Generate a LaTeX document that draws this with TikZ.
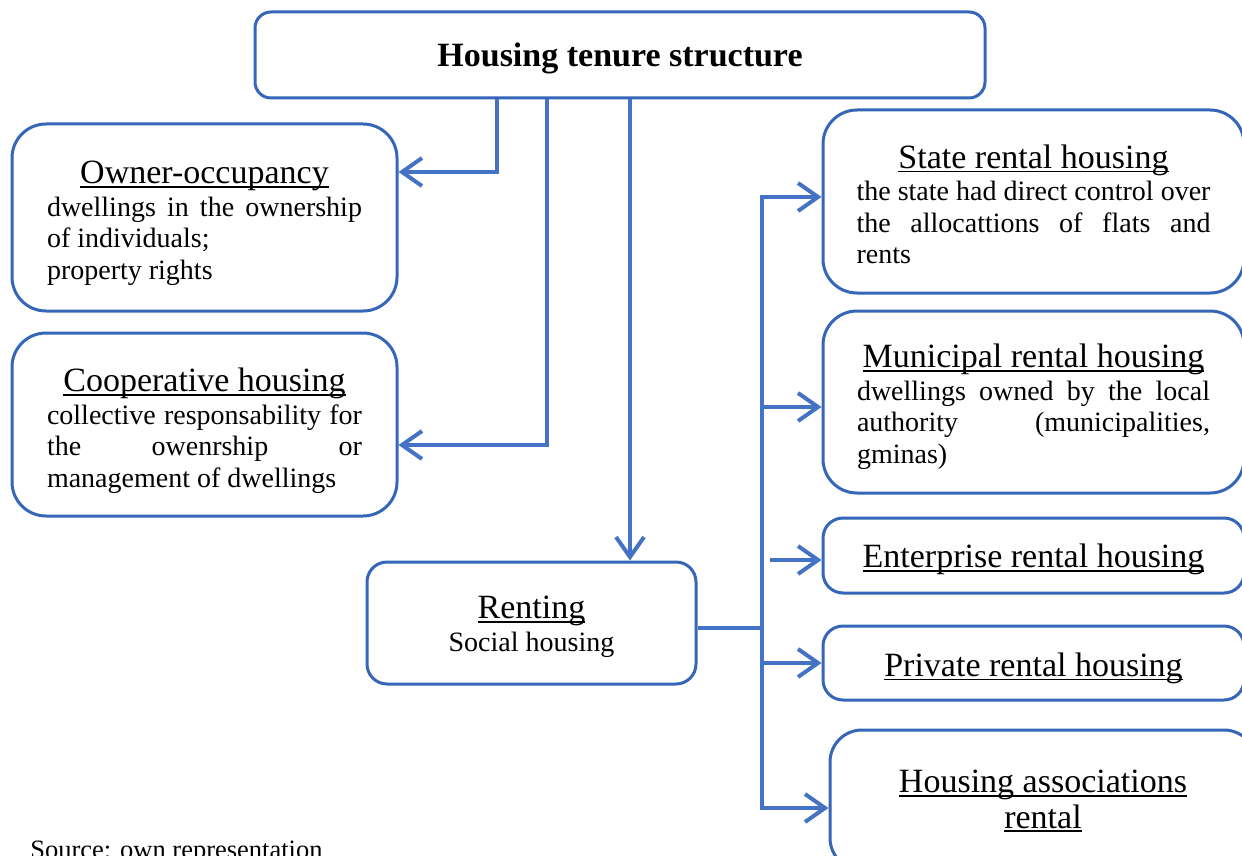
\documentclass[tikz,border=0pt]{standalone}
\usepackage{fontspec}
\setmainfont{Liberation Serif}
\usetikzlibrary{arrows.meta,calc}
\definecolor{boxblue}{HTML}{3566B8}
\definecolor{linkblue}{HTML}{4472C4}
\newsavebox{\ttlbox}
\newcommand{\ttl}[1]{{\fontsize{17}{17}\selectfont\sbox{\ttlbox}{#1}\rlap{\rule[-2pt]{\wd\ttlbox}{0.8pt}}\usebox{\ttlbox}}}
\newcommand{\jline}[2]{\makebox[#1][s]{#2}}
\newcommand{\lline}[2]{\makebox[#1][l]{#2}}
\tikzset{
  box/.style={draw=boxblue, line width=1.5pt, fill=white, inner sep=0pt},
  txt/.style={inner sep=0pt, align=center, font=\fontsize{14}{15.75}\selectfont},
  link/.style={draw=linkblue, line width=2pt},
  conn/.style={link, -{Straight Barb[length=10pt,width=14pt]}},
}
\begin{document}
\begin{tikzpicture}[x=0.5pt,y=-0.5pt]
\useasboundingbox (0,0) rectangle (1242,856);
\clip (0,0) rectangle (1242,856);
% boxes
\node[box, minimum width=365pt, minimum height=43pt, rounded corners=8pt] (top) at (620,55) {};
\node[box, minimum width=192.5pt, minimum height=93.5pt, rounded corners=17pt] (owner) at (204.5,217.5) {};
\node[box, minimum width=192.5pt, minimum height=91.5pt, rounded corners=17pt] (coop) at (204.5,424.5) {};
\node[box, minimum width=164.5pt, minimum height=61pt, rounded corners=10pt] (renting) at (531.5,623) {};
\node[box, minimum width=210.5pt, minimum height=91.5pt, rounded corners=17pt] (state) at (1033.5,201.5) {};
\node[box, minimum width=210.5pt, minimum height=91pt, rounded corners=17pt] (mun) at (1033.5,402) {};
\node[box, minimum width=210.5pt, minimum height=37.5pt, rounded corners=10pt] (ent) at (1033.5,555.5) {};
\node[box, minimum width=210.5pt, minimum height=37pt, rounded corners=10pt] (priv) at (1033.5,663) {};
\node[box, minimum width=213pt, minimum height=70pt, rounded corners=16pt] (ha) at (1043,800) {};
% texts
\node[txt, font=\fontsize{17}{17}\selectfont\bfseries] (topt) at ([yshift=-1.5pt]top.center)
  {Housing tenure structure};
\node[txt] (ownert) at ([yshift=-3pt]owner.center)
  {\ttl{Owner-occupancy}\\[0.5pt]
   \jline{157.5pt}{dwellings in the ownership}\\
   \lline{157.5pt}{of individuals;}\\
   \lline{157.5pt}{property rights}};
\node[txt] (coopt) at ([yshift=-3pt]coop.center)
  {\ttl{Cooperative housing}\\[0.5pt]
   \jline{157.5pt}{collective responsability for}\\
   \jline{157.5pt}{the owenrship or}\\
   \lline{157.5pt}{management of dwellings}};
\node[txt] (rentingt) at ([yshift=-2pt]renting.center)
  {\ttl{Renting}\\[0.5pt] Social housing};
\node[txt] (statet) at ([yshift=-1.5pt]state.center)
  {\ttl{State rental housing}\\[0.5pt]
   \jline{177pt}{the state had direct control over}\\
   \jline{177pt}{the allocattions of flats and}\\
   \lline{177pt}{rents}};
\node[txt] (munt) at ([yshift=-2.25pt]mun.center)
  {\ttl{Municipal rental housing}\\[0.5pt]
   \jline{176.5pt}{dwellings owned by the local}\\
   \jline{176.5pt}{authority (municipalities,}\\
   \lline{176.5pt}{gminas)}};
\node[txt] (entt) at ([yshift=-2pt]ent.center) {\ttl{Enterprise rental housing}};
\node[txt] (privt) at ([yshift=-2.5pt]priv.center) {\ttl{Private rental housing}};
\node[txt] (hat) at ([yshift=-0.5pt]ha.center)
  {\ttl{Housing associations}\\[2pt] \ttl{rental}};
\node[anchor=base west, inner sep=0pt, font=\fontsize{13.25}{14}\selectfont] (src) at (30,858)
  {Source: own representation};
% connectors
\coordinate (bus) at (762,628);
\draw[conn] ([xshift=-61.5pt]top.south) |- ([yshift=22.75pt]owner.east);
\draw[conn] ([xshift=-36.5pt]top.south) |- ([yshift=-10.25pt]coop.east);
\draw[conn] ([xshift=5pt]top.south) -- ([xshift=5pt]top.south |- renting.north);
\draw[link] ([yshift=-2.5pt]renting.east) -- ([yshift=-2.5pt]renting.east -| bus);
\draw[conn, line join=miter] ([yshift=-2.5pt]renting.east -| bus) -- ([yshift=2.25pt]state.west -| bus) -- ([yshift=2.25pt]state.west);
\draw[conn, line join=miter] ([yshift=-2.5pt]renting.east -| bus) -- ([yshift=-4pt]ha.west -| bus) -- ([yshift=-4pt]ha.west);
\draw[conn] ([yshift=-2.5pt]mun.west -| bus) -- ([yshift=-2.5pt]mun.west);
\draw[conn] ([yshift=-2.25pt,xshift=4pt]ent.west -| bus) -- ([yshift=-2.25pt]ent.west);
\draw[conn] (priv.west -| bus) -- (priv.west);
\end{tikzpicture}
\end{document}
